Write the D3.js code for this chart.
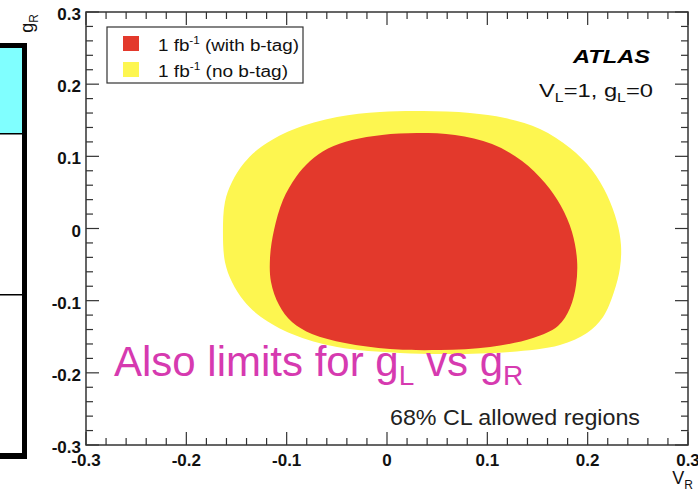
<!DOCTYPE html>
<html>
<head>
<meta charset="utf-8">
<script src="https://cdn.jsdelivr.net/npm/d3@7"></script>
<style>
  body { margin: 0; background: #fff; }
  svg { display: block; }
  text { font-family: "Liberation Sans", Arial, Helvetica, sans-serif; }
</style>
</head>
<body>
<svg id="chart" width="698" height="494"></svg>
<script>
// 68% CL allowed region in the (V_R, g_R) plane, 1 fb^-1 with b-tagging
const withBTag = [
  [0.0299, 0.1323], [0.0678, 0.1296], [0.1047, 0.1171], [0.1346, 0.0936],
  [0.1575, 0.0630], [0.1734, 0.0312], [0.1844, -0.0049], [0.1894, -0.0436],
  [0.1884, -0.0783], [0.1824, -0.1101], [0.1704, -0.1351], [0.1455, -0.1517],
  [0.1027, -0.1642], [0.0528, -0.1684], [0.0030, -0.1670], [-0.0419, -0.1587],
  [-0.0748, -0.1462], [-0.0947, -0.1296], [-0.1076, -0.1060], [-0.1156, -0.0741],
  [-0.1166, -0.0409], [-0.1126, -0.0021], [-0.1037, 0.0395], [-0.0907, 0.0714],
  [-0.0767, 0.0935], [-0.0588, 0.1108], [-0.0349, 0.1226], [-0.0050, 0.1296]
];
// same region without b-tagging
const noBTag = [
  [0.0359, 0.1628], [0.0827, 0.1601], [0.1176, 0.1531], [0.1525, 0.1379],
  [0.1824, 0.1115], [0.2043, 0.0811], [0.2193, 0.0464], [0.2292, 0.0090],
  [0.2332, -0.0229], [0.2322, -0.0547], [0.2262, -0.0880], [0.2153, -0.1226],
  [0.1993, -0.1448], [0.1724, -0.1614], [0.1226, -0.1711],
  [0.0628, -0.1739], [0.0130, -0.1725], [-0.0498, -0.1642], [-0.0947, -0.1462],
  [-0.1256, -0.1226], [-0.1425, -0.1005], [-0.1545, -0.0741], [-0.1615, -0.0464],
  [-0.1635, -0.0049], [-0.1615, 0.0367], [-0.1545, 0.0644], [-0.1425, 0.0908],
  [-0.1256, 0.1129], [-0.0947, 0.1365], [-0.0498, 0.1545], [-0.0070, 0.1614]
];
const majorTicks = [-0.3, -0.2, -0.1, 0, 0.1, 0.2, 0.3];
const tickLabels = ["-0.3", "-0.2", "-0.1", "0", "0.1", "0.2", "0.3"];
const legendLabels = ["(with b-tag)", "(no b-tag)"];
const regionColors = ["#e3392c", "#fdf650"];

const svg = d3.select("#chart");
const frame = { left: 86, right: 688, top: 12, bottom: 445 };

const x = d3.scaleLinear().domain([-0.3, 0.3]).range([frame.left, frame.right]);
const y = d3.scaleLinear().domain([-0.3, 0.3]).range([frame.bottom, frame.top]);

// side panel at the left edge
const side = svg.append("g");
side.append("rect").attr("x", 0).attr("y", 48).attr("width", 22).attr("height", 86).attr("fill", "#80ffff");
side.append("rect").attr("x", 0).attr("y", 43).attr("width", 27).attr("height", 5).attr("fill", "#000");
side.append("rect").attr("x", 22).attr("y", 43).attr("width", 5).attr("height", 416).attr("fill", "#000");
side.append("rect").attr("x", 0).attr("y", 453).attr("width", 27).attr("height", 6).attr("fill", "#000");
side.append("rect").attr("x", 0).attr("y", 133).attr("width", 22).attr("height", 1.5).attr("fill", "#000");
side.append("rect").attr("x", 0).attr("y", 294).attr("width", 22).attr("height", 1.5).attr("fill", "#000");

// filled contours
const contour = d3.line().x(d => x(d[0])).y(d => y(d[1])).curve(d3.curveCatmullRomClosed.alpha(0.5));
svg.append("path").datum(noBTag).attr("d", contour).attr("fill", regionColors[1]);
svg.append("path").datum(withBTag).attr("d", contour).attr("fill", regionColors[0]);

// frame and ROOT-style ticks on all four sides
const axisColor = "#333";
const minor = d3.range(-15, 16).map(i => i * 0.02);
const isMajor = v => majorTicks.some(m => Math.abs(m - v) < 1e-9);
const tickG = svg.append("g").attr("stroke", axisColor).attr("stroke-width", 1.2);
minor.forEach(v => {
  const len = isMajor(v) ? 13 : 7;
  tickG.append("line").attr("x1", x(v)).attr("x2", x(v)).attr("y1", frame.bottom).attr("y2", frame.bottom - len);
  tickG.append("line").attr("x1", x(v)).attr("x2", x(v)).attr("y1", frame.top).attr("y2", frame.top + len);
  tickG.append("line").attr("y1", y(v)).attr("y2", y(v)).attr("x1", frame.left).attr("x2", frame.left + len);
  tickG.append("line").attr("y1", y(v)).attr("y2", y(v)).attr("x1", frame.right).attr("x2", frame.right - len);
});
svg.append("rect")
  .attr("x", frame.left).attr("y", frame.top)
  .attr("width", frame.right - frame.left).attr("height", frame.bottom - frame.top)
  .attr("fill", "none").attr("stroke", axisColor).attr("stroke-width", 1.5);

// tick labels
majorTicks.forEach((v, i) => {
  svg.append("text").attr("x", x(v)).attr("y", 466).attr("text-anchor", "middle")
    .attr("font-size", 17).attr("font-weight", "bold").attr("fill", "#111").text(tickLabels[i]);
  svg.append("text").attr("x", 81).attr("y", y(v) + 8).attr("text-anchor", "end")
    .attr("font-size", 17).attr("font-weight", "bold").attr("fill", "#111").text(tickLabels[i]);
});

// axis titles
const xt = svg.append("text").attr("x", 693).attr("y", 484).attr("text-anchor", "end")
  .attr("font-size", 18).attr("fill", "#111");
xt.append("tspan").text("V");
xt.append("tspan").attr("font-size", 12).attr("dy", 5).text("R");
const yt = svg.append("text").attr("transform", "translate(33,14) rotate(-90)").attr("text-anchor", "end")
  .attr("font-size", 18).attr("fill", "#111");
yt.append("tspan").text("g");
yt.append("tspan").attr("font-size", 12).attr("dy", 5).text("R");

// legend
const leg = svg.append("g");
leg.append("rect").attr("x", 107).attr("y", 27).attr("width", 196).attr("height", 56)
  .attr("fill", "#fff").attr("stroke", "#333").attr("stroke-width", 1.2);
const legendWidths = [141, 130];
legendLabels.forEach((lab, i) => {
  const cy = 44 + i * 26;
  leg.append("rect").attr("x", 123).attr("y", cy - 8).attr("width", 16).attr("height", 15).attr("fill", regionColors[i]);
  const t = leg.append("text").attr("x", 158).attr("y", cy + 7).attr("font-size", 16).attr("fill", "#111")
    .attr("textLength", legendWidths[i]).attr("lengthAdjust", "spacingAndGlyphs");
  t.append("tspan").text("1 fb");
  t.append("tspan").attr("font-size", 10).attr("dy", -7).text("-1");
  t.append("tspan").attr("dy", 7).text(" " + lab);
});

// experiment label and model assumptions
svg.append("text").attr("x", 573).attr("y", 63)
  .attr("font-size", 19).attr("font-weight", "bold").attr("font-style", "italic").attr("fill", "#000")
  .attr("textLength", 77).attr("lengthAdjust", "spacingAndGlyphs").text("ATLAS");
const vl = svg.append("text").attr("x", 539).attr("y", 97)
  .attr("font-size", 18).attr("fill", "#111")
  .attr("textLength", 114).attr("lengthAdjust", "spacingAndGlyphs");
vl.append("tspan").text("V");
vl.append("tspan").attr("font-size", 12).attr("dy", 5).text("L");
vl.append("tspan").attr("dy", -5).text("=1, g");
vl.append("tspan").attr("font-size", 12).attr("dy", 5).text("L");
vl.append("tspan").attr("dy", -5).text("=0");

svg.append("text").attr("x", 390).attr("y", 425).attr("font-size", 22).attr("fill", "#222")
  .attr("textLength", 250).attr("lengthAdjust", "spacingAndGlyphs")
  .text("68% CL allowed regions");

// annotation
const ann = svg.append("text").attr("x", 114).attr("y", 376).attr("font-size", 42).attr("fill", "#d63ab0");
ann.append("tspan").text("Also limits for g");
ann.append("tspan").attr("font-size", 28).attr("dy", 9).text("L");
ann.append("tspan").attr("dy", -9).text(" vs g");
ann.append("tspan").attr("font-size", 28).attr("dy", 9).text("R");
</script>
</body>
</html>
